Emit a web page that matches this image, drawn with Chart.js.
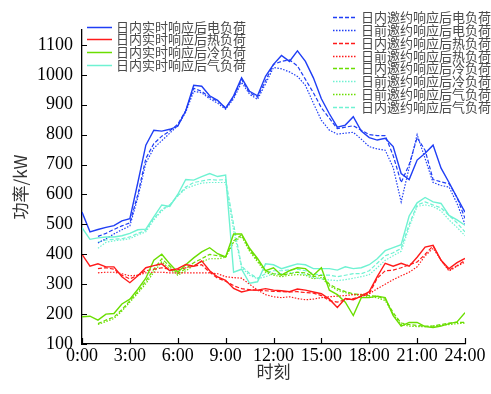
<!DOCTYPE html>
<html>
<head>
<meta charset="utf-8">
<script src="https://cdn.jsdelivr.net/npm/chart.js@4.4.1/dist/chart.umd.min.js"></script>
<style>
  html, body { margin: 0; padding: 0; background: #fff; }
  #wrap { width: 491px; height: 394px; }
</style>
</head>
<body>
<div id="wrap"><canvas id="c" width="491" height="394"></canvas></div>
<script>
// Time of day in hours, half-hour steps
const hours = [0,0.5,1,1.5,2,2.5,3,3.5,4,4.5,5,5.5,6,6.5,7,7.5,8,8.5,9,9.5,10,10.5,11,11.5,12,
  12.5,13,13.5,14,14.5,15,15.5,16,16.5,17,17.5,18,18.5,19,19.5,20,20.5,21,21.5,22,22.5,23,23.5,24];

const xTickValues = [0,3,6,9,12,15,18,21,24];
const xTickLabels = ['0:00','3:00','6:00','9:00','12:00','15:00','18:00','21:00','24:00'];
const yTickValues = [100,200,300,400,500,600,700,800,900,1000,1100];

// Electric load (kW)
const elecRealtime = [541,475,483,490,496,512,519,640,765,815,812,818,828,880,965,962,930,915,888,930,990,945,930,995,1035,
  1065,1045,1080,1045,990,920,870,825,832,860,812,790,782,788,760,670,650,715,738,765,688,640,590,541];
const elecIntraday = [null,null,460,470,483,495,505,600,720,770,795,812,835,880,955,945,925,912,890,925,985,940,925,980,1035,
  1045,1050,1030,985,940,890,855,820,825,830,815,800,797,797,730,640,700,790,748,650,642,636,590,520];
const elecDayAhead = [null,null,438,452,468,482,495,590,705,755,780,805,830,875,945,940,920,905,885,920,975,935,918,970,1025,
  1020,1010,995,965,905,848,815,802,805,808,785,760,752,748,690,575,690,800,720,640,630,625,570,500];

// Heat load (kW)
const heatRealtime = [400,360,368,358,358,325,305,328,355,362,368,345,352,366,360,378,345,324,313,286,274,280,280,285,280,
  278,275,284,280,274,268,250,222,252,248,260,275,325,370,360,370,360,390,424,430,380,352,372,386];
const heatIntraday = [null,null,352,355,350,330,318,330,345,350,355,350,348,355,360,365,340,320,310,295,285,282,280,278,276,
  275,274,275,272,270,262,245,240,248,252,258,268,320,345,347,355,365,374,400,428,380,347,362,380];
const heatDayAhead = [null,null,338,340,340,335,328,330,338,340,340,338,338,338,338,338,338,335,325,322,320,300,280,265,258,
  255,258,252,248,250,255,258,260,262,265,266,268,285,300,315,328,340,358,395,420,380,344,360,374];

// Cooling load (kW)
const coolRealtime = [191,193,180,200,202,234,250,283,320,380,400,368,340,365,388,408,422,402,391,468,468,420,386,345,355,
  330,345,355,352,330,355,280,265,240,195,255,255,260,255,195,160,172,172,158,155,160,168,174,205];
const coolIntraday = [null,null,168,180,190,215,245,275,310,350,385,360,335,352,372,385,400,395,392,445,465,415,380,345,335,
  330,335,340,338,325,330,300,285,275,268,265,262,260,250,205,170,165,162,160,160,165,170,172,172];
const coolDayAhead = [null,null,165,175,185,210,240,270,302,340,375,352,330,345,362,375,385,385,390,440,460,410,375,340,330,
  325,330,332,330,318,322,295,280,272,265,262,258,255,245,200,165,160,158,158,160,162,165,168,170];

// Gas load (kW)
const gasRealtime = [489,450,455,458,458,462,470,482,484,525,565,560,600,650,648,660,670,660,665,340,350,303,308,368,365,
  352,360,368,365,352,352,352,347,358,352,355,365,385,412,422,432,528,572,590,575,570,530,515,497];
const gasIntraday = [null,null,440,448,450,452,458,470,480,520,550,565,595,625,640,645,650,648,650,500,360,336,320,335,345,
  345,348,350,345,335,330,330,325,330,335,335,345,370,395,405,420,500,565,575,565,555,530,505,475];
const gasDayAhead = [null,null,420,440,445,448,452,465,475,515,545,565,595,620,630,638,640,640,640,480,355,330,318,325,335,
  335,338,340,332,322,318,314,312,315,320,325,332,355,380,395,410,490,560,565,560,545,515,490,462];

const BLUE = '#1f3ef5', RED = '#ff1a1a', GREEN = '#6ade00', CYAN = '#6ff2d2';
const DASH = [4, 2], DOT = [1.5, 1.5];

function pts(arr) { return hours.map((h, i) => ({ x: h, y: arr[i] })); }
function series(label, arr, color, dash, width) {
  return { label, data: pts(arr), borderColor: color, backgroundColor: color,
    borderDash: dash, borderWidth: width, pointRadius: 0, tension: 0, fill: false, spanGaps: false };
}

const datasets = [
  series('日内实时响应后电负荷', elecRealtime, BLUE, [], 1.4),
  series('日内实时响应后热负荷', heatRealtime, RED, [], 1.4),
  series('日内实时响应后冷负荷', coolRealtime, GREEN, [], 1.4),
  series('日内实时响应后气负荷', gasRealtime, CYAN, [], 1.4),
  series('日内邀约响应后电负荷', elecIntraday, BLUE, DASH, 1.2),
  series('日前邀约响应后电负荷', elecDayAhead, BLUE, DOT, 1.2),
  series('日内邀约响应后热负荷', heatIntraday, RED, DASH, 1.2),
  series('日前邀约响应后热负荷', heatDayAhead, RED, DOT, 1.2),
  series('日内邀约响应后冷负荷', coolIntraday, GREEN, DASH, 1.2),
  series('日前邀约响应后冷负荷', gasDayAhead, CYAN, DOT, 1.2),
  series('日前邀约响应后气负荷', coolDayAhead, GREEN, DOT, 1.2),
  series('日内邀约响应后气负荷', gasIntraday, CYAN, DASH, 1.2)
];

const CJK = '"Noto Sans CJK SC", "Noto Sans", sans-serif';
const SERIF = '"Liberation Serif", "DejaVu Serif", serif';

// Inward tick marks on both axes
const innerTicks = {
  id: 'innerTicks',
  afterDraw(chart) {
    const { ctx, chartArea: a, scales: { x, y } } = chart;
    ctx.save();
    ctx.strokeStyle = '#000';
    ctx.lineWidth = 1.2;
    ctx.beginPath();
    xTickValues.forEach(v => { const px = Math.round(x.getPixelForValue(v)) + 0.5; ctx.moveTo(px, a.bottom); ctx.lineTo(px, a.bottom - 6); });
    yTickValues.forEach(v => { const py = Math.round(y.getPixelForValue(v)) + 0.5; ctx.moveTo(a.left, py); ctx.lineTo(a.left + 5, py); });
    ctx.stroke();
    ctx.restore();
  }
};

// Two legend blocks: real-time series on the left, invitation series on the right
const legendBlocks = {
  id: 'legendBlocks',
  afterDraw(chart) {
    const { ctx } = chart;
    const blocks = [
      { idx: [0,1,2,3], x0: 87, x1: 112, tx: 116, y0: 26.5, dy: 12.9 },
      { idx: [4,5,6,7,8,9,10,11], x0: 333, x1: 357, tx: 361, y0: 17, dy: 12.85 }
    ];
    ctx.save();
    ctx.font = '13px ' + CJK;
    ctx.textBaseline = 'middle';
    ctx.textAlign = 'left';
    blocks.forEach(b => {
      b.idx.forEach((di, k) => {
        const ds = chart.data.datasets[di];
        const yy = Math.round(b.y0 + k * b.dy) + 0.5;
        ctx.strokeStyle = ds.borderColor;
        ctx.lineWidth = 1.5;
        ctx.setLineDash(ds.borderDash || []);
        ctx.beginPath(); ctx.moveTo(b.x0, yy); ctx.lineTo(b.x1, yy); ctx.stroke();
        ctx.setLineDash([]);
        ctx.fillStyle = '#4a4a4a';
        ctx.fillText(ds.label, b.tx, yy);
      });
    });
    ctx.restore();
  }
};

new Chart(document.getElementById('c'), {
  type: 'line',
  data: { datasets },
  options: {
    responsive: false,
    animation: false,
    devicePixelRatio: 1,
    layout: { padding: { top: 30, right: 26, left: 0, bottom: 0 } },
    plugins: { legend: { display: false }, tooltip: { enabled: false } },
    scales: {
      x: {
        type: 'linear', min: 0, max: 24,
        afterBuildTicks: s => { s.ticks = xTickValues.map(v => ({ value: v })); },
        afterFit: s => { s.height = 50; },
        ticks: { callback: (v, i) => xTickLabels[i], color: '#000', font: { family: SERIF, size: 18 }, padding: 1, maxRotation: 0, autoSkip: false },
        grid: { drawOnChartArea: false, drawTicks: false },
        border: { color: '#000', width: 1.3 },
        title: { display: true, text: '时刻', color: '#333', font: { family: CJK, size: 17 }, padding: { top: 0, bottom: 12 } }
      },
      y: {
        min: 100, max: 1150,
        afterBuildTicks: s => { s.ticks = yTickValues.map(v => ({ value: v })); },
        afterFit: s => { s.width = 82; },
        ticks: { callback: v => String(v), color: '#000', font: { family: SERIF, size: 18 }, padding: 9 },
        grid: { drawOnChartArea: false, drawTicks: false },
        border: { color: '#000', width: 1.3 },
        title: { display: true, text: '功率/kW', color: '#333', font: { family: CJK, size: 17 }, padding: { top: 10, bottom: 0 } }
      }
    }
  },
  plugins: [innerTicks, legendBlocks]
});
</script>
</body>
</html>
